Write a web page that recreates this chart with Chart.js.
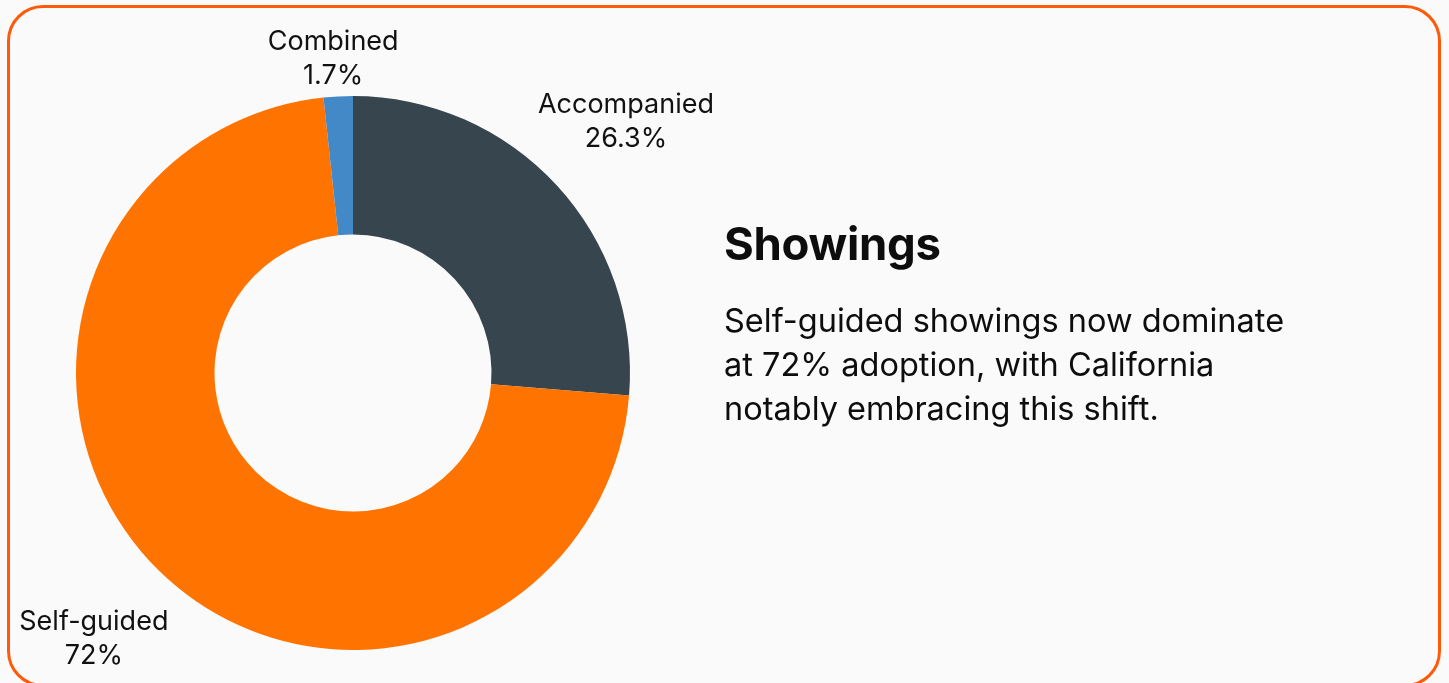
<!DOCTYPE html>
<html lang="en">
<head>
    <meta charset="UTF-8">
    <title>Showings</title>
    <script src="https://cdn.jsdelivr.net/npm/chart.js"></script>
    <style>
        html, body { margin: 0; padding: 0; background: #fafafa; font-family: Inter, "Noto Sans", Arial, sans-serif; overflow: hidden; }
        .card {
            position: absolute; left: 7px; top: 5px; width: 1428px; height: 676px;
            border: 3px solid #ff5a0a; border-radius: 36px; background: #fafafa;
        }
        .chart-box { position: absolute; left: 0; top: 20px; width: 760px; height: 663px; }
        .text { position: absolute; left: 724px; top: 214px; width: 660px; color: #0d0d0d; }
        .text h2 { margin: 0; font-size: 45.5px; font-weight: 700; letter-spacing: -0.3px; line-height: 60px; }
        .text p { margin: 25px 0 0 0; font-size: 32.5px; line-height: 44px; font-weight: 400; }
    </style>
</head>
<body>
    <div class="card"></div>
    <div class="chart-box"><canvas id="showingsChart"></canvas></div>
    <div class="text">
        <h2>Showings</h2>
        <p>Self-guided showings now dominate<br>at 72% adoption, with California<br>notably embracing this shift.</p>
    </div>

    <script>
        const labels = ["Accompanied", "Self-guided", "Combined"];
        const shares = [26.3, 72, 1.7];
        const shareText = ["26.3%", "72%", "1.7%"];
        const colors = ["#37454f", "#ff7300", "#4389c8"];

        // draws "name / value" outside each slice, pushed back inside the canvas if needed
        const outsideLabels = {
            id: "outsideLabels",
            afterDatasetsDraw(chart) {
                const ctx = chart.ctx;
                const meta = chart.getDatasetMeta(0);
                const lineH = 34;
                ctx.save();
                ctx.font = "27px Inter, 'Noto Sans', sans-serif";
                ctx.fillStyle = "#111";
                ctx.textAlign = "center";
                ctx.textBaseline = "middle";
                meta.data.forEach((arc, i) => {
                    const p = arc.getProps(["x", "y", "startAngle", "endAngle", "outerRadius"], true);
                    const mid = (p.startAngle + p.endAngle) / 2;
                    const r = p.outerRadius * 1.34;
                    let x = p.x + Math.cos(mid) * r;
                    let y = p.y + Math.sin(mid) * r;
                    const half = lineH;
                    if (y - half < 5) y = 5 + half;
                    if (y + half > chart.height - 3) y = chart.height - 3 - half;
                    ctx.fillText(labels[i], x, y - lineH / 2);
                    ctx.fillText(shareText[i], x, y + lineH / 2);
                });
                ctx.restore();
            }
        };

        new Chart(document.getElementById("showingsChart"), {
            type: "doughnut",
            data: {
                labels: labels,
                datasets: [{
                    data: shares,
                    backgroundColor: colors,
                    borderWidth: 0
                }]
            },
            options: {
                responsive: true,
                maintainAspectRatio: false,
                animation: false,
                cutout: "50%",
                layout: { padding: { left: 76, right: 130, top: 76, bottom: 33 } },
                plugins: {
                    legend: { display: false },
                    tooltip: { enabled: false }
                }
            },
            plugins: [outsideLabels]
        });
    </script>
</body>
</html>
